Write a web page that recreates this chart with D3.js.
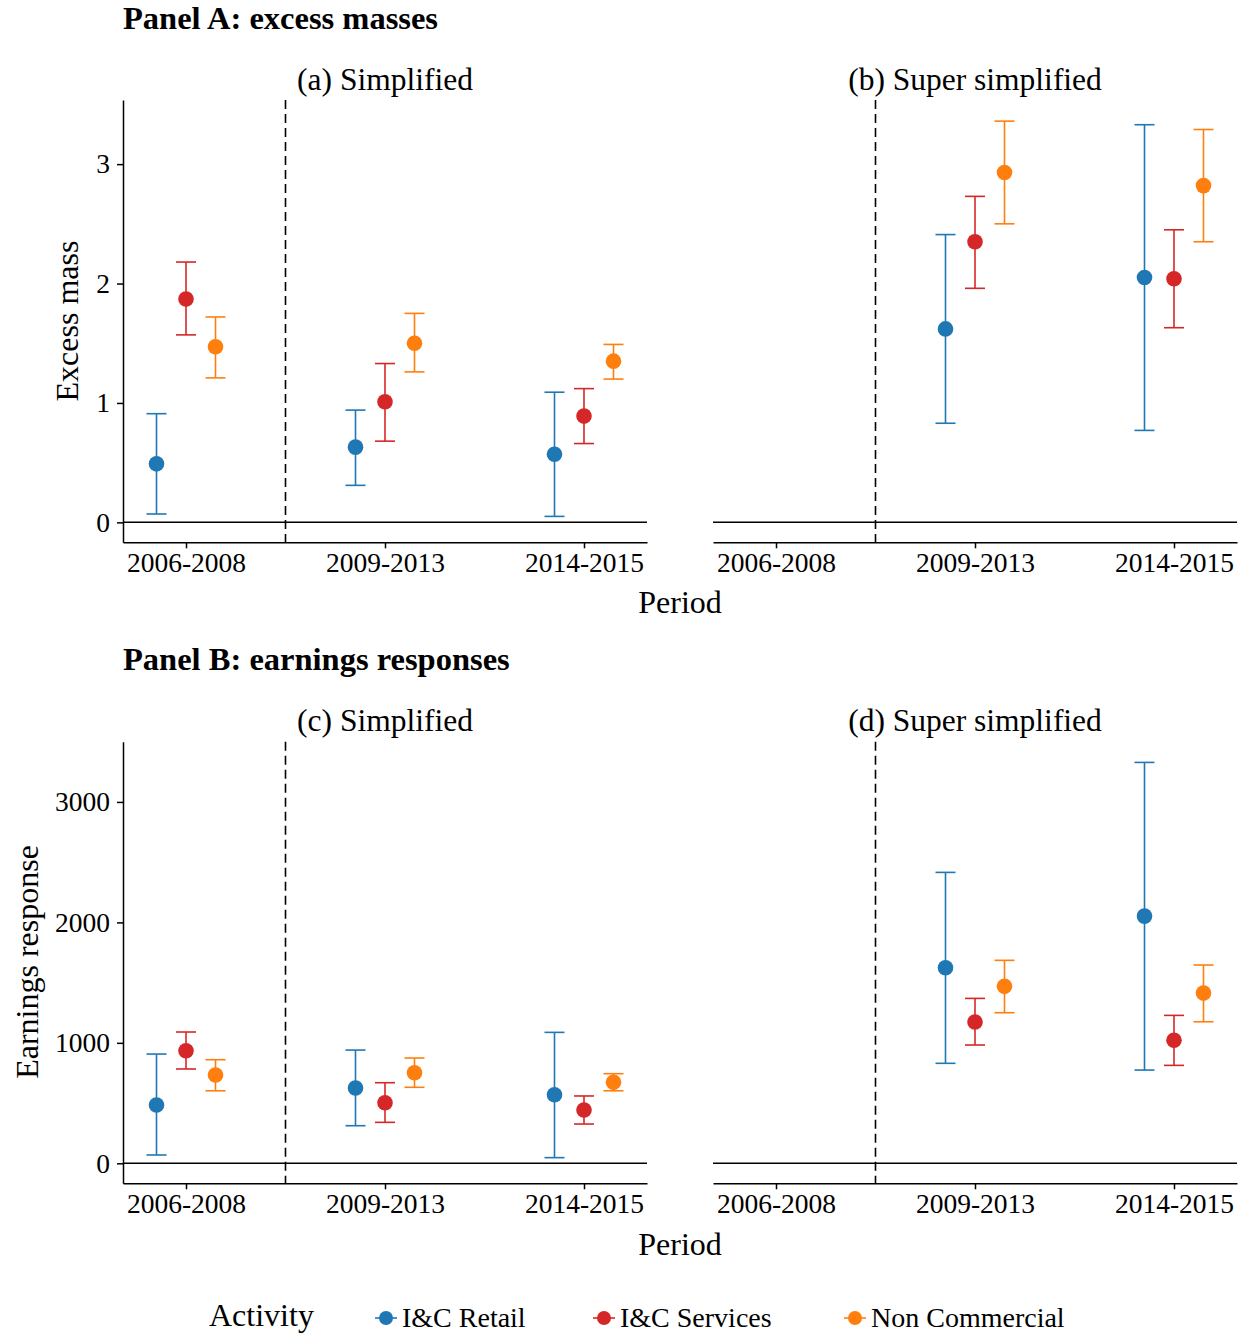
<!DOCTYPE html>
<html>
<head>
<meta charset="utf-8">
<script src="https://cdn.jsdelivr.net/npm/d3@7"></script>
<style>
  html, body { margin: 0; padding: 0; background: #fff; }
  svg { display: block; }
  text { font-family: "Liberation Serif", "Times New Roman", serif; fill: #000; }
</style>
</head>
<body>
<svg id="chart" width="1248" height="1334"></svg>
<script>
// ---------------- DATA ----------------
const periods = ["2006-2008", "2009-2013", "2014-2015"];
const activities = ["I&C Retail", "I&C Services", "Non Commercial"];
const activityColors = ["#1f77b4", "#d62728", "#ff7f0e"];

// Panel A: excess masses  (rows = activity, columns = period)
const massSimplifiedEst = [[0.49, 0.63, 0.57], [1.87, 1.01, 0.89], [1.47, 1.50, 1.35]];
const massSimplifiedLo  = [[0.07, 0.31, 0.05], [1.57, 0.68, 0.66], [1.21, 1.26, 1.20]];
const massSimplifiedHi  = [[0.91, 0.94, 1.09], [2.18, 1.33, 1.12], [1.72, 1.75, 1.49]];

const massSuperEst = [[null, 1.62, 2.05], [null, 2.35, 2.04], [null, 2.93, 2.82]];
const massSuperLo  = [[null, 0.83, 0.77], [null, 1.96, 1.63], [null, 2.50, 2.35]];
const massSuperHi  = [[null, 2.41, 3.33], [null, 2.73, 2.45], [null, 3.36, 3.29]];

// Panel B: earnings responses
const earnSimplifiedEst = [[484, 625, 569], [934, 503, 442], [733, 752, 672]];
const earnSimplifiedLo  = [[69, 312, 47], [783, 340, 326], [602, 631, 602]];
const earnSimplifiedHi  = [[907, 940, 1087], [1090, 669, 559], [860, 874, 744]];

const earnSuperEst = [[null, 1623, 2052], [null, 1173, 1021], [null, 1469, 1413]];
const earnSuperLo  = [[null, 830, 774], [null, 982, 813], [null, 1250, 1175]];
const earnSuperHi  = [[null, 2415, 3328], [null, 1369, 1228], [null, 1685, 1646]];

const massTicks = [0, 1, 2, 3];
const earnTicks = [0, 1000, 2000, 3000];

// ---------------- LAYOUT ----------------
const svg = d3.select("#chart");
const FONT_TICK = 27.5, FONT_TITLE = 32;
const facetW = 524;
const facetLefts = [123, 713];

function buildRows(est, lo, hi) {
  const rows = [];
  activities.forEach((a, i) => {
    periods.forEach((p, j) => {
      if (est[i][j] !== null) rows.push({act: a, ai: i, period: p, est: est[i][j], lo: lo[i][j], hi: hi[i][j]});
    });
  });
  return rows;
}

function drawFacet(left, y, rows, ticks, showY, facetLabel, labelY) {
  const g = svg.append("g").attr("transform", `translate(${left},0)`);
  const x = d3.scalePoint().domain(periods).range([0, facetW]).padding(0.3166);
  const dodge = d3.scalePoint().domain(activities).range([-29.5, 29.5]);
  const [yBottom, yTop] = y.range();

  // facet label
  g.append("text").attr("x", facetW / 2).attr("y", labelY)
    .attr("text-anchor", "middle").style("font-size", "31.5px").text(facetLabel);

  // zero line
  g.append("line").attr("x1", 0).attr("x2", facetW)
    .attr("y1", y(0)).attr("y2", y(0)).attr("stroke", "#000").attr("stroke-width", 1.5);

  // dashed vertical line between first and second period
  const xd = (x(periods[0]) + x(periods[1])) / 2;
  g.append("line").attr("x1", xd).attr("x2", xd).attr("y1", yTop).attr("y2", yBottom)
    .attr("stroke", "#000").attr("stroke-width", 1.6).attr("stroke-dasharray", "9,5");

  // x axis
  const xa = g.append("g").attr("transform", `translate(0,${yBottom})`)
    .call(d3.axisBottom(x).tickSize(6).tickSizeOuter(0).tickPadding(4));
  xa.selectAll("path, line").attr("stroke", "#000").attr("stroke-width", 1.5);
  xa.selectAll("text").style("font-size", FONT_TICK + "px").style("font-family", '"Liberation Serif", serif').attr("fill", "#000");

  // y axis
  if (showY) {
    const ya = g.append("g").call(d3.axisLeft(y).tickValues(ticks).tickSize(6).tickSizeOuter(0).tickPadding(7).tickFormat(d3.format("d")));
    ya.selectAll("path, line").attr("stroke", "#000").attr("stroke-width", 1.5);
    ya.selectAll("text").style("font-size", FONT_TICK + "px").style("font-family", '"Liberation Serif", serif').attr("fill", "#000");
  }

  // error bars and points
  const cap = 10;
  const grp = g.selectAll("g.pt").data(rows).join("g").attr("class", "pt")
    .attr("transform", d => `translate(${x(d.period) + dodge(d.act)},0)`);
  grp.append("line").attr("y1", d => y(d.lo)).attr("y2", d => y(d.hi))
    .attr("stroke", d => activityColors[d.ai]).attr("stroke-width", 1.6);
  grp.append("line").attr("x1", -cap).attr("x2", cap).attr("y1", d => y(d.hi)).attr("y2", d => y(d.hi))
    .attr("stroke", d => activityColors[d.ai]).attr("stroke-width", 1.6);
  grp.append("line").attr("x1", -cap).attr("x2", cap).attr("y1", d => y(d.lo)).attr("y2", d => y(d.lo))
    .attr("stroke", d => activityColors[d.ai]).attr("stroke-width", 1.6);
  grp.append("circle").attr("cy", d => y(d.est)).attr("r", 7.8).attr("fill", d => activityColors[d.ai]);
}

// ---------- Panel A ----------
svg.append("text").attr("x", 123).attr("y", 29).style("font-size", "32.5px")
  .style("font-weight", "bold").text("Panel A: excess masses");
const yMass = d3.scaleLinear().domain([-0.167, 3.537]).range([542.3, 100]);
drawFacet(facetLefts[0], yMass, buildRows(massSimplifiedEst, massSimplifiedLo, massSimplifiedHi), massTicks, true, "(a) Simplified", 90);
drawFacet(facetLefts[1], yMass, buildRows(massSuperEst, massSuperLo, massSuperHi), massTicks, false, "(b) Super simplified", 90);
svg.append("text").attr("transform", "translate(78,321) rotate(-90)").attr("text-anchor", "middle")
  .style("font-size", FONT_TITLE + "px").text("Excess mass");
svg.append("text").attr("x", 680).attr("y", 613).attr("text-anchor", "middle")
  .style("font-size", FONT_TITLE + "px").text("Period");

// ---------- Panel B ----------
svg.append("text").attr("x", 123).attr("y", 670).style("font-size", "32.5px")
  .style("font-weight", "bold").text("Panel B: earnings responses");
const yEarn = d3.scaleLinear().domain([-166, 3500]).range([1183.3, 741.7]);
drawFacet(facetLefts[0], yEarn, buildRows(earnSimplifiedEst, earnSimplifiedLo, earnSimplifiedHi), earnTicks, true, "(c) Simplified", 731);
drawFacet(facetLefts[1], yEarn, buildRows(earnSuperEst, earnSuperLo, earnSuperHi), earnTicks, false, "(d) Super simplified", 731);
svg.append("text").attr("transform", "translate(38,962) rotate(-90)").attr("text-anchor", "middle")
  .style("font-size", FONT_TITLE + "px").text("Earnings response");
svg.append("text").attr("x", 680).attr("y", 1255).attr("text-anchor", "middle")
  .style("font-size", FONT_TITLE + "px").text("Period");

// ---------- Legend ----------
const legend = svg.append("g");
legend.append("text").attr("x", 209).attr("y", 1326).style("font-size", FONT_TITLE + "px").text("Activity");
const keyX = [386, 604, 855];
const lg = legend.selectAll("g.key").data(activities).join("g").attr("class", "key")
  .attr("transform", (d, i) => `translate(${keyX[i]},1318)`);
lg.append("line").attr("x1", -11).attr("x2", 11).attr("stroke", (d, i) => activityColors[i]).attr("stroke-width", 1.6);
lg.append("circle").attr("r", 7).attr("fill", (d, i) => activityColors[i]);
lg.append("text").attr("x", 16).attr("y", 9).style("font-size", "28px").text(d => d);
</script>
</body>
</html>
